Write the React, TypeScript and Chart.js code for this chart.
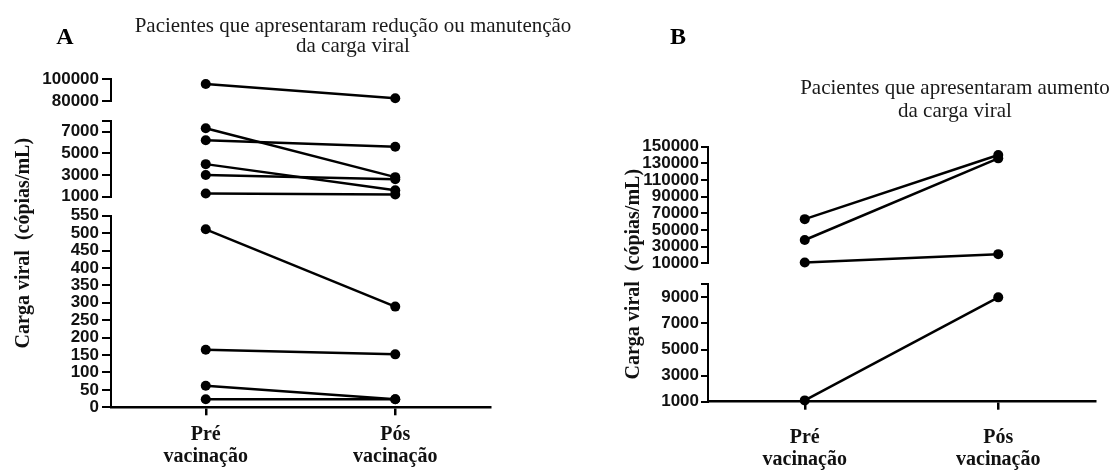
import React, { useEffect, useRef } from 'react';
import { Chart, registerables } from 'chart.js';

Chart.register(...registerables);

// ---------- DATA ----------
const categories: string[][] = [['Pré', 'vacinação'], ['Pós', 'vacinação']];

const titleA: string[] = ['Pacientes que apresentaram redução ou manutenção', 'da carga viral'];
const titleB: string[] = ['Pacientes que apresentaram aumento', 'da carga viral'];
const yAxisTitle = 'Carga viral  (cópias/mL)';

// Panel A – each pair is [pré, pós]
const aHighPairs: number[][] = [[95500, 82500]];
const aMidPairs: number[][] = [
  [7300, 2800],
  [6200, 5600],
  [4000, 1600],
  [3000, 2600],
  [1300, 1200],
];
const aLowPairs: number[][] = [
  [511, 289],
  [165, 152],
  [62, 23],
  [23, 23],
];
const aHighTicks: number[] = [80000, 100000];
const aMidTicks: number[] = [1000, 3000, 5000, 7000, 8000];
const aMidUnlabeled: number[] = [8000];
const aLowTicks: number[] = [0, 50, 100, 150, 200, 250, 300, 350, 400, 450, 500, 550];

// Panel B – each pair is [pré, pós]
const bHighPairs: number[][] = [
  [63000, 140000],
  [38000, 136000],
  [11000, 21000],
];
const bLowPairs: number[][] = [[1100, 9000]];
const bHighTicks: number[] = [10000, 30000, 50000, 70000, 90000, 110000, 130000, 150000];
const bLowTicks: number[] = [1000, 3000, 5000, 7000, 9000, 10000];
const bLowUnlabeled: number[] = [10000];

// ---------- STYLE HELPERS ----------
const INK = '#111';
const tickFont = { family: "'Liberation Sans', Arial, sans-serif", weight: 'bold' as const, size: 17 };
const serifBold = (size: number) => ({ family: "'Liberation Serif', 'Times New Roman', serif", weight: 'bold' as const, size });

function lineDatasets(pairs: number[][], axis: string) {
  return pairs.map((p, i) => ({
    label: `${axis}-${i}`,
    data: p,
    yAxisID: axis,
    borderColor: '#000',
    backgroundColor: '#000',
    borderWidth: 2.5,
    pointRadius: 5,
    pointHoverRadius: 5,
    pointBackgroundColor: '#000',
    pointBorderColor: '#000',
    pointBorderWidth: 0,
    tension: 0,
    fill: false,
    clip: false,
  }));
}

function segmentScale(
  ticks: number[],
  unlabeled: number[],
  weight: number,
  stackWeight: number,
  stack: string,
  width: number,
  tickLength: number,
  padding: number
) {
  return {
    type: 'linear',
    position: 'left',
    stack,
    stackWeight,
    weight,
    min: ticks[0],
    max: ticks[ticks.length - 1],
    afterBuildTicks: (s: any) => {
      s.ticks = ticks.map((v) => ({ value: v }));
    },
    afterFit: (s: any) => {
      s.width = width;
    },
    grid: { display: true, drawOnChartArea: false, color: '#000', lineWidth: 2, tickLength },
    border: { display: true, color: '#000', width: 2 },
    ticks: {
      autoSkip: false,
      padding,
      color: INK,
      font: tickFont,
      callback: (v: any) => (unlabeled.includes(Number(v)) ? '' : String(v)),
    },
  };
}

function gapScale(weight: number, stackWeight: number, stack: string) {
  return {
    type: 'linear',
    position: 'left',
    stack,
    stackWeight,
    weight,
    min: 0,
    max: 1,
    afterFit: (s: any) => {
      s.width = 0;
    },
    grid: { display: false, drawTicks: false },
    border: { display: false },
    ticks: { display: false },
  };
}

function titleScale(width: number, padTop: number) {
  return {
    type: 'linear',
    position: 'left',
    weight: 10,
    min: 0,
    max: 1,
    afterFit: (s: any) => {
      s.width = width;
    },
    grid: { display: false, drawTicks: false },
    border: { display: false },
    ticks: { display: false },
    title: {
      display: true,
      text: yAxisTitle,
      color: INK,
      font: { ...serifBold(20), lineHeight: 1.2 },
      padding: { top: padTop, bottom: 0 },
    },
  };
}

function xScale(padding: number, height: number) {
  return {
    type: 'category',
    offset: true,
    afterFit: (s: any) => {
      s.height = height;
    },
    grid: { display: true, drawOnChartArea: false, offset: false, color: '#000', lineWidth: 2.5, tickLength: 8 },
    border: { display: true, color: '#000', width: 2.5 },
    ticks: {
      autoSkip: false,
      maxRotation: 0,
      padding,
      color: INK,
      font: { ...serifBold(20), lineHeight: 1.1 },
    },
  };
}

const basePlugins = {
  legend: { display: false },
  tooltip: { enabled: false },
  title: { display: false },
};

function configA(): any {
  return {
    type: 'line',
    data: {
      labels: categories,
      datasets: [
        ...lineDatasets(aHighPairs, 'yHigh'),
        ...lineDatasets(aMidPairs, 'yMid'),
        ...lineDatasets(aLowPairs, 'yLow'),
      ],
    },
    options: {
      responsive: false,
      animation: false,
      layout: { padding: { left: 4, top: 79, right: 90, bottom: 0 } },
      plugins: basePlugins,
      scales: {
        x: xScale(9, 62.7),
        yTitle: titleScale(36, 8),
        yHigh: segmentScale(aHighTicks, [], 5, 22, 'A', 71, 9, 3),
        gapA1: gapScale(4, 19.7, 'A'),
        yMid: segmentScale(aMidTicks, aMidUnlabeled, 3, 76, 'A', 71, 9, 3),
        gapA2: gapScale(2, 19, 'A'),
        yLow: segmentScale(aLowTicks, [], 1, 191.6, 'A', 71, 9, 3),
      },
    },
  };
}

function configB(): any {
  return {
    type: 'line',
    data: {
      labels: categories,
      datasets: [...lineDatasets(bHighPairs, 'yHigh'), ...lineDatasets(bLowPairs, 'yLow')],
    },
    options: {
      responsive: false,
      animation: false,
      layout: { padding: { left: 40, top: 146.7, right: 23, bottom: 0 } },
      plugins: basePlugins,
      scales: {
        x: xScale(17, 68.3),
        yTitle: titleScale(17, 2),
        yHigh: segmentScale(bHighTicks, [], 5, 116.6, 'B', 71, 7, 2),
        gapB1: gapScale(4, 21, 'B'),
        yLow: segmentScale(bLowTicks, bLowUnlabeled, 3, 117.4, 'B', 71, 7, 2),
      },
    },
  };
}

function Panel({ left, width, build }: { left: number; width: number; build: () => any }) {
  const ref = useRef<HTMLCanvasElement>(null);
  useEffect(() => {
    if (!ref.current) return;
    const chart = new Chart(ref.current, build());
    return () => chart.destroy();
  }, []);
  return (
    <canvas
      ref={ref}
      width={width}
      height={470}
      style={{ position: 'absolute', left, top: 0, width, height: 470, display: 'block' }}
    />
  );
}

const serifCss = "'Liberation Serif', 'Times New Roman', serif";

function TextBlock({ lines, cx, top, size, lineHeight, bold }: { lines: string[]; cx: number; top: number; size: number; lineHeight: number; bold?: boolean }) {
  return (
    <div
      style={{
        position: 'absolute',
        left: cx,
        top,
        transform: 'translateX(-50%)',
        fontFamily: serifCss,
        fontSize: size,
        lineHeight: `${lineHeight}px`,
        fontWeight: bold ? 'bold' : 'normal',
        color: bold ? '#000' : '#1a1a1a',
        textAlign: 'center',
        whiteSpace: 'nowrap',
      }}
    >
      {lines.map((l, i) => (
        <div key={i}>{l}</div>
      ))}
    </div>
  );
}

export default function App() {
  return (
    <div
      style={{
        position: 'absolute',
        left: 0,
        top: 0,
        width: 1118,
        height: 470,
        background: '#fff',
        overflow: 'hidden',
      }}
    >
      <Panel left={0} width={580} build={configA} />
      <Panel left={580} width={538} build={configB} />
      <TextBlock lines={['A']} cx={65} top={24} size={24} lineHeight={24} bold />
      <TextBlock lines={['B']} cx={678} top={24} size={24} lineHeight={24} bold />
      <TextBlock lines={titleA} cx={353} top={15} size={21} lineHeight={20} />
      <TextBlock lines={titleB} cx={955} top={76} size={21} lineHeight={23} />
    </div>
  );
}
